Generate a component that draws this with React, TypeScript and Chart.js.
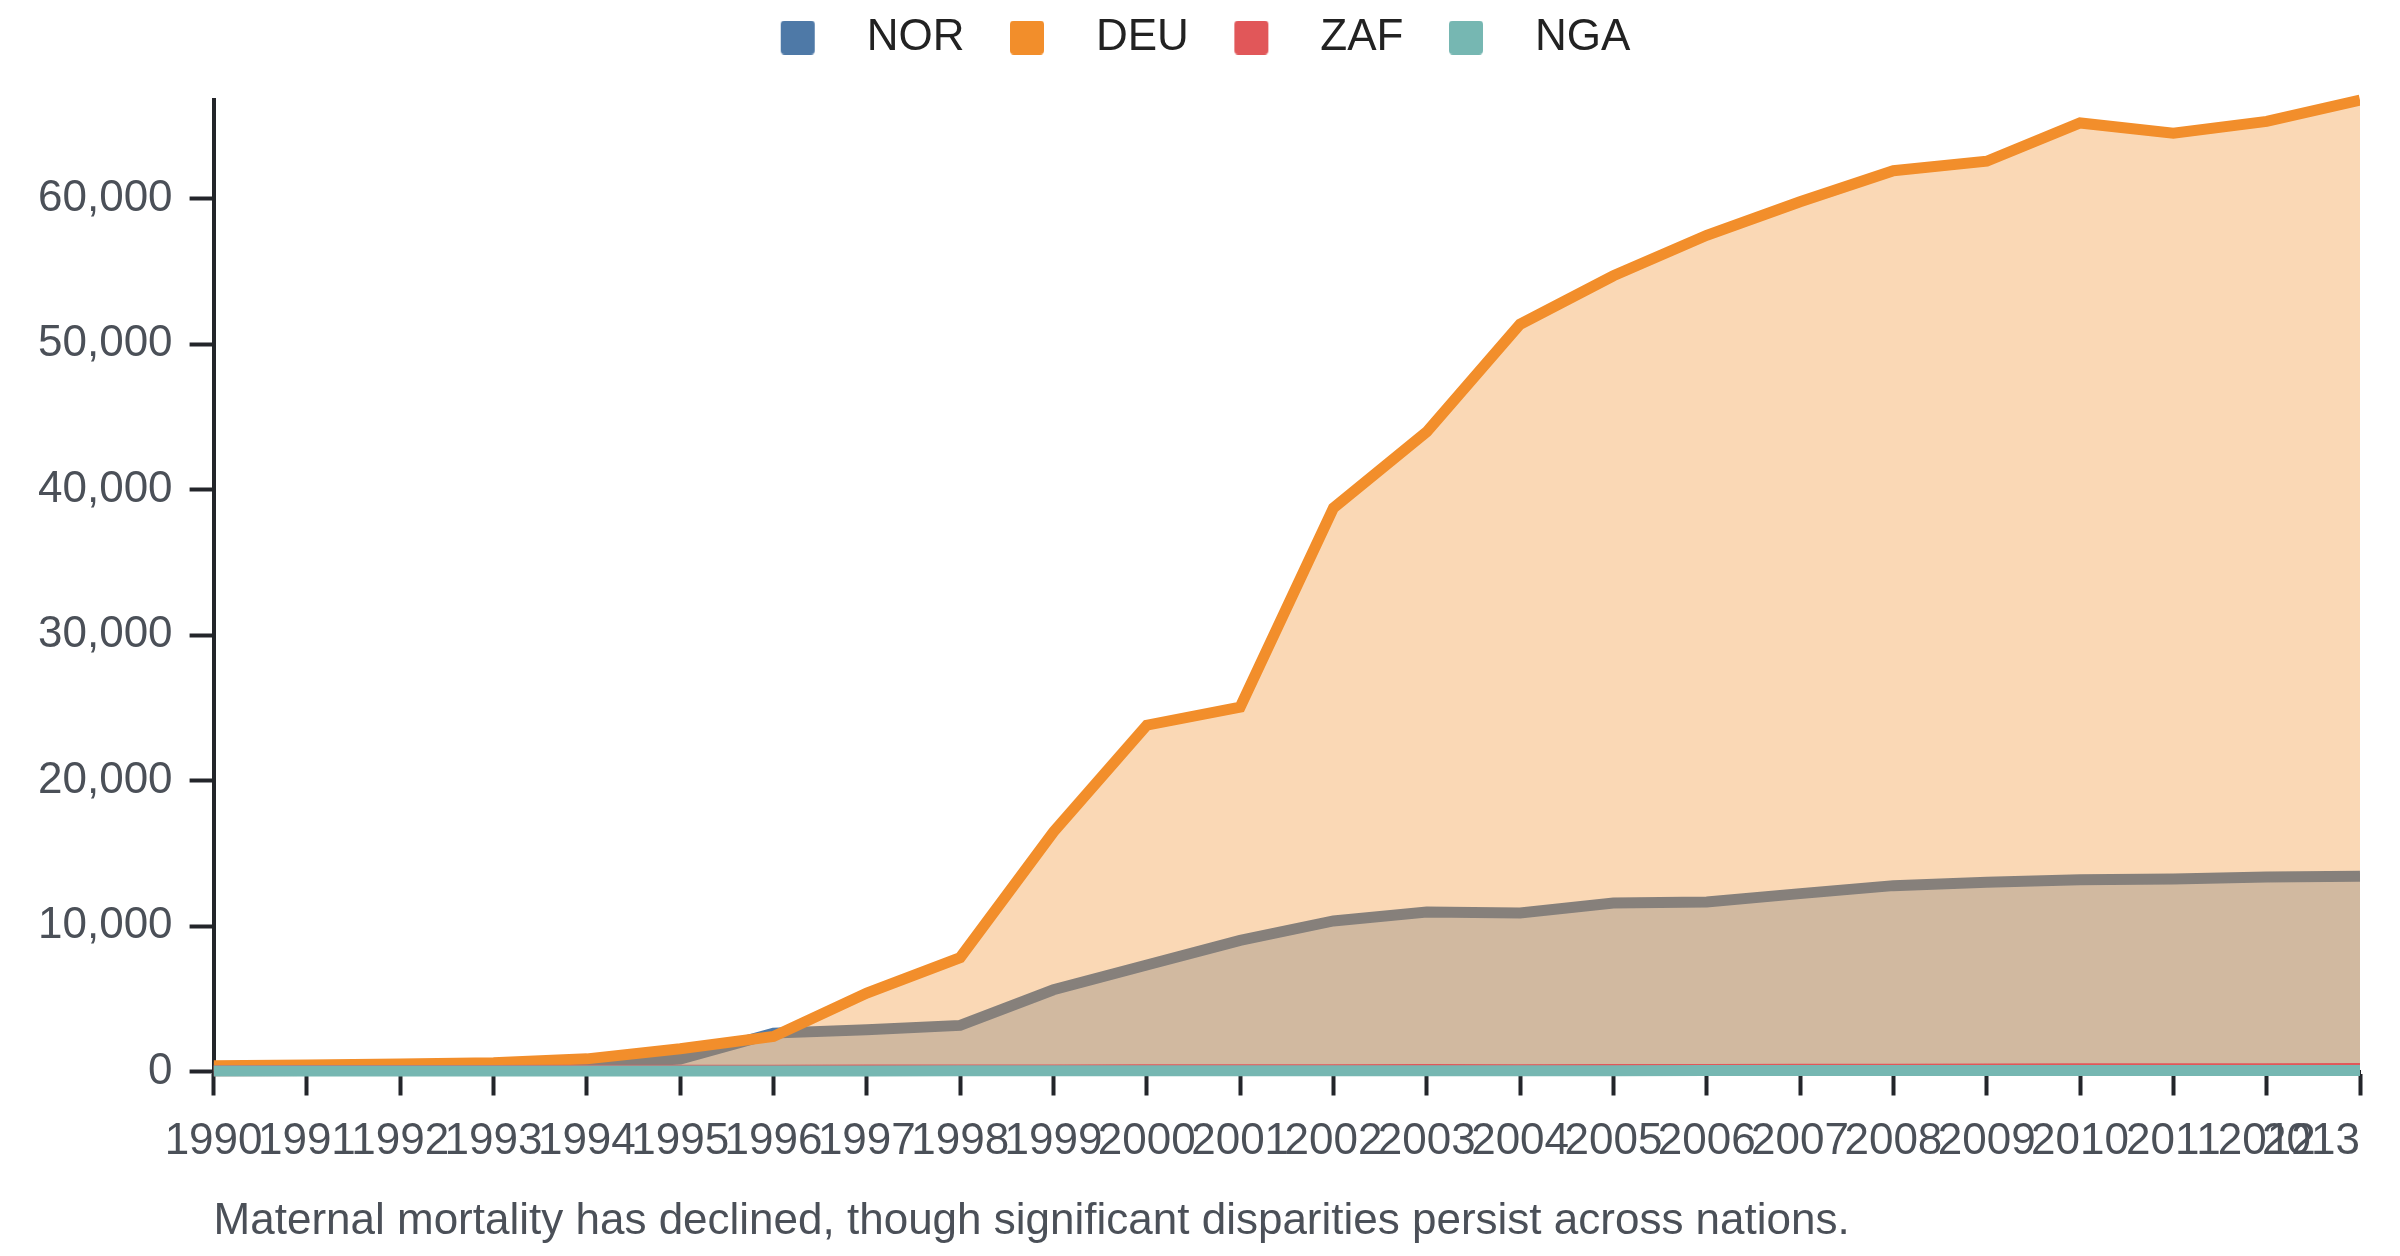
import React, { useEffect, useRef } from 'react';
import { Chart, registerables, ChartOptions, Plugin } from 'chart.js';

Chart.register(...registerables);

const YEARS = [
    '1990', '1991', '1992', '1993', '1994', '1995', '1996', '1997',
    '1998', '1999', '2000', '2001', '2002', '2003', '2004', '2005',
    '2006', '2007', '2008', '2009', '2010', '2011', '2012', '2013'
];

const NOR = [
    250, 300, 350, 450, 480, 850, 2640, 2870, 3170, 5620, 7320, 9020,
    10350, 10960, 10900, 11580, 11650, 12230, 12780, 13010, 13190, 13240, 13370, 13420
];
const DEU = [
    400, 450, 520, 600, 870, 1560, 2410, 5390, 7830, 16470, 23810, 25050,
    38750, 43980, 51380, 54710, 57500, 59800, 61940, 62590, 65220, 64510, 65330, 66800
];
const ZAF = [
    60, 62, 70, 74, 81, 88, 90, 97, 104, 103, 112, 118,
    121, 130, 128, 137, 145, 152, 160, 171, 183, 186, 192, 198
];
const NGA = [
    30, 32, 35, 33, 38, 40, 42, 41, 45, 48, 50, 52,
    55, 54, 58, 60, 63, 62, 66, 68, 70, 72, 71, 75
];

const SERIES_NAMES = ['NOR', 'DEU', 'ZAF', 'NGA'];
const SERIES_VALUES = [NOR, DEU, ZAF, NGA];
const SERIES_COLORS = ['#4e79a7', '#f28e2b', '#e15759', '#76b7b2'];
const Y_TICKS = [0, 10000, 20000, 30000, 40000, 50000, 60000];

const CAPTION = 'Maternal mortality has declined, though significant disparities persist across nations.';

const FONT_FAMILY = '"Liberation Sans", Arial, Helvetica, sans-serif';
const FONT_SIZE = 44;
const TEXT_GRAY = '#4b5058';
const AXIS_DARK = '#23252a';
const TICK_LEN = 24;
const X_TICK_PAD = 20;

function withAlpha(hex: string, a: number) {
    const n = parseInt(hex.slice(1), 16);
    return `rgba(${(n >> 16) & 255}, ${(n >> 8) & 255}, ${n & 255}, ${a})`;
}

// legend swatch: rounded square sitting at the right of a small transparent gutter
function makeSwatch(color: string) {
    const c = document.createElement('canvas');
    c.width = 94;
    c.height = 34;
    const ctx = c.getContext('2d');
    if (ctx) {
        ctx.fillStyle = color;
        ctx.beginPath();
        ctx.roundRect(30, 0, 34, 34, 4);
        ctx.fill();
    }
    return c;
}

// the last year label is anchored at its end so it stays inside the plot
const lastYearLabel: Plugin<'line'> = {
    id: 'lastYearLabel',
    afterDraw(chart) {
        const scale = chart.scales.x;
        const i = scale.ticks.length - 1;
        const ctx = chart.ctx;
        ctx.save();
        ctx.font = `${FONT_SIZE}px ${FONT_FAMILY}`;
        ctx.fillStyle = TEXT_GRAY;
        ctx.textAlign = 'right';
        ctx.textBaseline = 'middle';
        ctx.fillText(YEARS[i], scale.getPixelForTick(i), scale.top + TICK_LEN + X_TICK_PAD + FONT_SIZE * 0.6);
        ctx.restore();
    }
};

const MortalityChart: React.FC = () => {
    const chartRef = useRef<HTMLCanvasElement | null>(null);
    const chartInstanceRef = useRef<Chart | null>(null);

    useEffect(() => {
        document.body.style.margin = '0';
        if (!chartRef.current) return;
        const ctx = chartRef.current.getContext('2d');
        if (!ctx) return;

        if (chartInstanceRef.current) {
            chartInstanceRef.current.destroy();
        }

        const swatches = SERIES_COLORS.map(makeSwatch);
        const yMax = Math.max(...SERIES_VALUES.flat());

        chartInstanceRef.current = new Chart(ctx, {
            type: 'line',
            data: {
                labels: YEARS,
                datasets: SERIES_NAMES.map((name, i) => ({
                    label: name,
                    data: SERIES_VALUES[i],
                    borderColor: SERIES_COLORS[i],
                    backgroundColor: withAlpha(SERIES_COLORS[i], 0.35),
                    borderWidth: 11,
                    borderJoinStyle: 'miter' as const,
                    fill: 'origin',
                    tension: 0,
                    pointRadius: 0,
                    pointHoverRadius: 0,
                    clip: { left: 0, right: 0, top: 8, bottom: 8 },
                    // first series is painted first, the last one ends on top
                    order: SERIES_NAMES.length - i
                }))
            },
            options: {
                animation: false,
                responsive: true,
                maintainAspectRatio: false,
                layout: {
                    padding: { left: 21, right: 40, top: 0, bottom: 0 }
                },
                scales: {
                    x: {
                        z: 1,
                        offset: false,
                        grid: {
                            drawOnChartArea: false,
                            drawTicks: true,
                            tickLength: TICK_LEN,
                            tickWidth: 4,
                            tickColor: AXIS_DARK
                        },
                        border: { display: true, color: AXIS_DARK, width: 4 },
                        ticks: {
                            autoSkip: false,
                            maxRotation: 0,
                            minRotation: 0,
                            padding: X_TICK_PAD,
                            color: TEXT_GRAY,
                            font: { family: FONT_FAMILY, size: FONT_SIZE },
                            callback: (_value, index, ticks) =>
                                index === ticks.length - 1 ? '' : YEARS[index]
                        }
                    },
                    y: {
                        z: 1,
                        min: 0,
                        max: yMax,
                        afterBuildTicks: (scale) => {
                            scale.ticks = Y_TICKS.map((value) => ({ value }));
                        },
                        grid: {
                            drawOnChartArea: false,
                            drawTicks: true,
                            tickLength: TICK_LEN,
                            tickWidth: 4,
                            tickColor: AXIS_DARK
                        },
                        border: { display: true, color: AXIS_DARK, width: 4 },
                        ticks: {
                            padding: 17,
                            color: TEXT_GRAY,
                            font: { family: FONT_FAMILY, size: FONT_SIZE },
                            callback: (value) => Number(value).toLocaleString('en-US')
                        }
                    }
                },
                plugins: {
                    legend: {
                        position: 'top',
                        labels: {
                            usePointStyle: true,
                            pointStyleWidth: 94,
                            padding: 15.5,
                            color: '#222222',
                            font: { family: FONT_FAMILY, size: FONT_SIZE },
                            generateLabels: (chart) =>
                                chart.data.datasets.map((ds, i) => ({
                                    text: ds.label as string,
                                    fillStyle: SERIES_COLORS[i],
                                    strokeStyle: 'transparent',
                                    lineWidth: 0,
                                    pointStyle: swatches[i],
                                    hidden: !chart.isDatasetVisible(i),
                                    datasetIndex: i,
                                    fontColor: '#222222'
                                }))
                        }
                    },
                    // empty spacer between legend and plot
                    subtitle: {
                        display: true,
                        text: '',
                        position: 'top',
                        weight: 500,
                        font: { size: 10, lineHeight: 1 },
                        padding: { top: 20.5, bottom: 0 }
                    },
                    title: {
                        display: true,
                        text: CAPTION,
                        position: 'bottom',
                        align: 'start',
                        fullSize: false,
                        color: TEXT_GRAY,
                        font: { family: FONT_FAMILY, size: FONT_SIZE, weight: 'normal' },
                        padding: { top: 6.8, bottom: 8.1 }
                    },
                    tooltip: { enabled: false }
                }
            } as ChartOptions<'line'>,
            plugins: [lastYearLabel]
        });

        return () => {
            if (chartInstanceRef.current) {
                chartInstanceRef.current.destroy();
                chartInstanceRef.current = null;
            }
        };
    }, []);

    return (
        <div style={{ position: 'relative', width: 2400, height: 1256 }}>
            <canvas ref={chartRef}></canvas>
        </div>
    );
};

export default function App() {
    return <MortalityChart />;
}
